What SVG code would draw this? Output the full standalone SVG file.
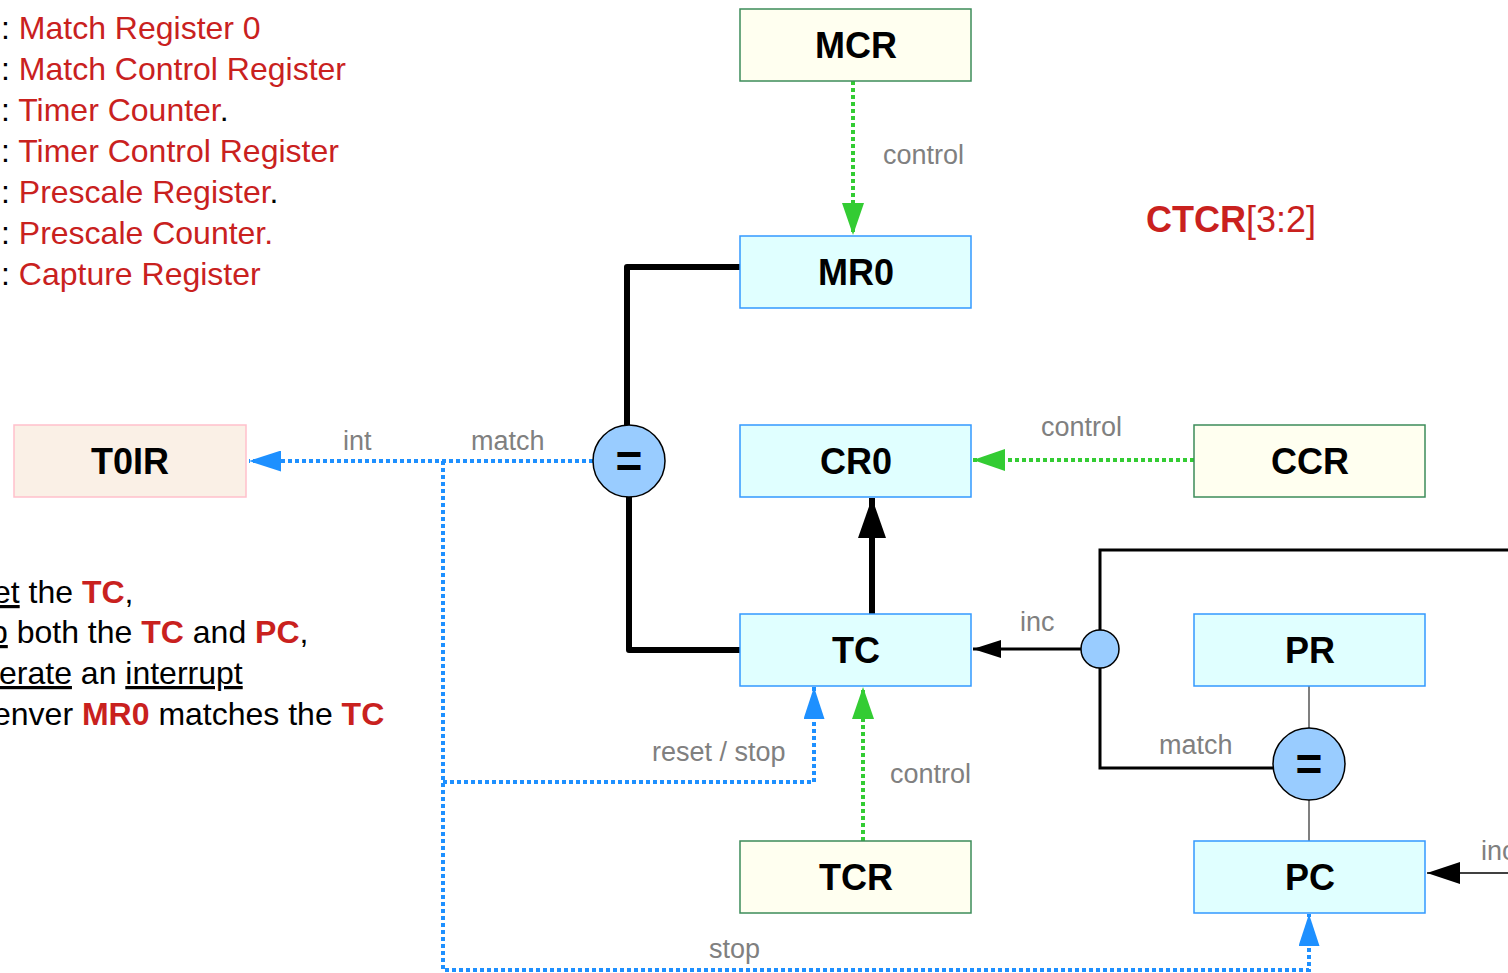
<svg xmlns="http://www.w3.org/2000/svg" width="1508" height="973" viewBox="0 0 1508 973">
<defs>
<style>
text { font-family: "Liberation Sans", Arial, sans-serif; }
.bc { fill:#e0ffff; stroke:#3399ff; stroke-width:1.5; }
.by { fill:#fffff0; stroke:#3c8c5a; stroke-width:1.5; }
.bp { fill:#faf0e6; stroke:#ffc0cb; stroke-width:1.5; }
.node { font-weight:bold; font-size:36px; text-anchor:middle; fill:#000; }
.lbl { font-size:27px; fill:#808080; }
.cmp { fill:#99ccff; stroke:#000; stroke-width:1.5; }
.eq { font-weight:bold; font-size:46px; text-anchor:middle; fill:#000; }
.dg { fill:none; stroke:#33cc33; stroke-width:4; stroke-dasharray:4 3; }
.db { fill:none; stroke:#1e90ff; stroke-width:4; stroke-dasharray:4 3; }
.thick { fill:none; stroke:#000; stroke-width:6; stroke-linejoin:round; }
.med { fill:none; stroke:#000; stroke-width:3; }
.thin { fill:none; stroke:#555; stroke-width:1.5; }
.red { fill:#c9211e; }
.txt { font-size:32px; fill:#000; }
.b { font-weight:bold; }
.u { text-decoration:underline; }
</style>
<marker id="ag" markerUnits="userSpaceOnUse" markerWidth="32" markerHeight="22" viewBox="0 0 32 22" refX="32" refY="11" orient="auto"><path d="M0,0L32,11L0,22z" fill="#33cc33"/></marker>
<marker id="ab" markerUnits="userSpaceOnUse" markerWidth="32" markerHeight="21" viewBox="0 0 32 21" refX="32" refY="10.5" orient="auto"><path d="M0,0L32,10.5L0,21z" fill="#1e90ff"/></marker>
<marker id="akb" markerUnits="userSpaceOnUse" markerWidth="40" markerHeight="28" viewBox="0 0 40 28" refX="40" refY="14" orient="auto"><path d="M0,0L40,14L0,28z" fill="#000"/></marker>
<marker id="akm" markerUnits="userSpaceOnUse" markerWidth="28" markerHeight="18" viewBox="0 0 28 18" refX="28" refY="9" orient="auto"><path d="M0,0L28,9L0,18z" fill="#000"/></marker>
<marker id="akp" markerUnits="userSpaceOnUse" markerWidth="33" markerHeight="22" viewBox="0 0 33 22" refX="33" refY="11" orient="auto"><path d="M0,0L33,11L0,22z" fill="#000"/></marker>
</defs>
<rect width="1508" height="973" fill="#fff"/>

<g id="legend">
<text class="txt" x="1" y="39">: <tspan class="red">Match Register 0</tspan></text>
<text class="txt" x="1" y="80">: <tspan class="red">Match Control Register</tspan></text>
<text class="txt" x="1" y="121">: <tspan class="red">Timer Counter</tspan>.</text>
<text class="txt" x="1" y="162">: <tspan class="red">Timer Control Register</tspan></text>
<text class="txt" x="1" y="203">: <tspan class="red">Prescale Register</tspan>.</text>
<text class="txt" x="1" y="244">: <tspan class="red">Prescale Counter.</tspan></text>
<text class="txt" x="1" y="285">: <tspan class="red">Capture Register</tspan></text>
</g>

<g id="note">
<text class="txt" x="-7" y="603"><tspan class="u">et</tspan> the <tspan class="red b">TC</tspan>,</text>
<text class="txt" x="-10" y="643"><tspan class="u">p</tspan> both the <tspan class="red b">TC</tspan> and <tspan class="red b">PC</tspan>,</text>
<text class="txt" x="-1" y="684"><tspan class="u">erate</tspan> an <tspan class="u">interrupt</tspan></text>
<text class="txt" x="-7" y="725">enver <tspan class="red b">MR0</tspan> matches the <tspan class="red b">TC</tspan></text>
</g>

<g id="ctcr">
<text x="1146" y="232" font-size="36" class="red"><tspan class="b">CTCR</tspan>[3:2]</text>
</g>

<g id="connectors">
<path class="thick" d="M740,267 H627 V425"/>
<path class="thick" d="M629,497 V650 H740"/>
<path class="thick" d="M872,614 V498" marker-end="url(#akb)"/>
<path class="med" d="M1081,649 H973" marker-end="url(#akm)"/>
<path class="med" d="M1100,630 V550 H1510"/>
<path class="med" d="M1100,668 V768 H1273"/>
<path class="thin" d="M1309,686 V728"/>
<path class="thin" d="M1309,800 V841"/>
<path fill="none" stroke="#000" stroke-width="1.5" d="M1510,873 H1427" marker-end="url(#akp)"/>
<path class="dg" d="M853,81 V235" marker-end="url(#ag)"/>
<path class="dg" d="M1194,460 H973" marker-end="url(#ag)"/>
<path class="dg" d="M863,841 V687" marker-end="url(#ag)"/>
<path class="db" d="M593,461 H249" marker-end="url(#ab)"/>
<path class="db" d="M443,461 V970 H1309 V914" marker-end="url(#ab)"/>
<path class="db" d="M443,782 H814 V687" marker-end="url(#ab)"/>
<text class="lbl" x="883" y="164">control</text>
<text class="lbl" x="1041" y="436">control</text>
<text class="lbl" x="890" y="783">control</text>
<text class="lbl" x="343" y="450">int</text>
<text class="lbl" x="471" y="450">match</text>
<text class="lbl" x="1020" y="631">inc</text>
<text class="lbl" x="1159" y="754">match</text>
<text class="lbl" x="1481" y="860">inc</text>
<text class="lbl" x="652" y="761">reset / stop</text>
<text class="lbl" x="709" y="958">stop</text>
</g>

<g id="MCR"><rect class="by" x="740" y="9" width="231" height="72"/><text class="node" x="856" y="58">MCR</text></g>
<g id="MR0"><rect class="bc" x="740" y="236" width="231" height="72"/><text class="node" x="856" y="285">MR0</text></g>
<g id="CR0"><rect class="bc" x="740" y="425" width="231" height="72"/><text class="node" x="856" y="474">CR0</text></g>
<g id="CCR"><rect class="by" x="1194" y="425" width="231" height="72"/><text class="node" x="1310" y="474">CCR</text></g>
<g id="T0IR"><rect class="bp" x="14" y="425" width="232" height="72"/><text class="node" x="130" y="474">T0IR</text></g>
<g id="TC"><rect class="bc" x="740" y="614" width="231" height="72"/><text class="node" x="856" y="663">TC</text></g>
<g id="PR"><rect class="bc" x="1194" y="614" width="231" height="72"/><text class="node" x="1310" y="663">PR</text></g>
<g id="TCR"><rect class="by" x="740" y="841" width="231" height="72"/><text class="node" x="856" y="890">TCR</text></g>
<g id="PC"><rect class="bc" x="1194" y="841" width="231" height="72"/><text class="node" x="1310" y="890">PC</text></g>
<g id="cmp1"><circle class="cmp" cx="629" cy="461" r="36"/><text class="eq" x="629" y="477">=</text></g>
<g id="cmp2"><circle class="cmp" cx="1309" cy="764" r="36"/><text class="eq" x="1309" y="780">=</text></g>
<g id="junction"><circle class="cmp" cx="1100" cy="649" r="19"/></g>
</svg>
